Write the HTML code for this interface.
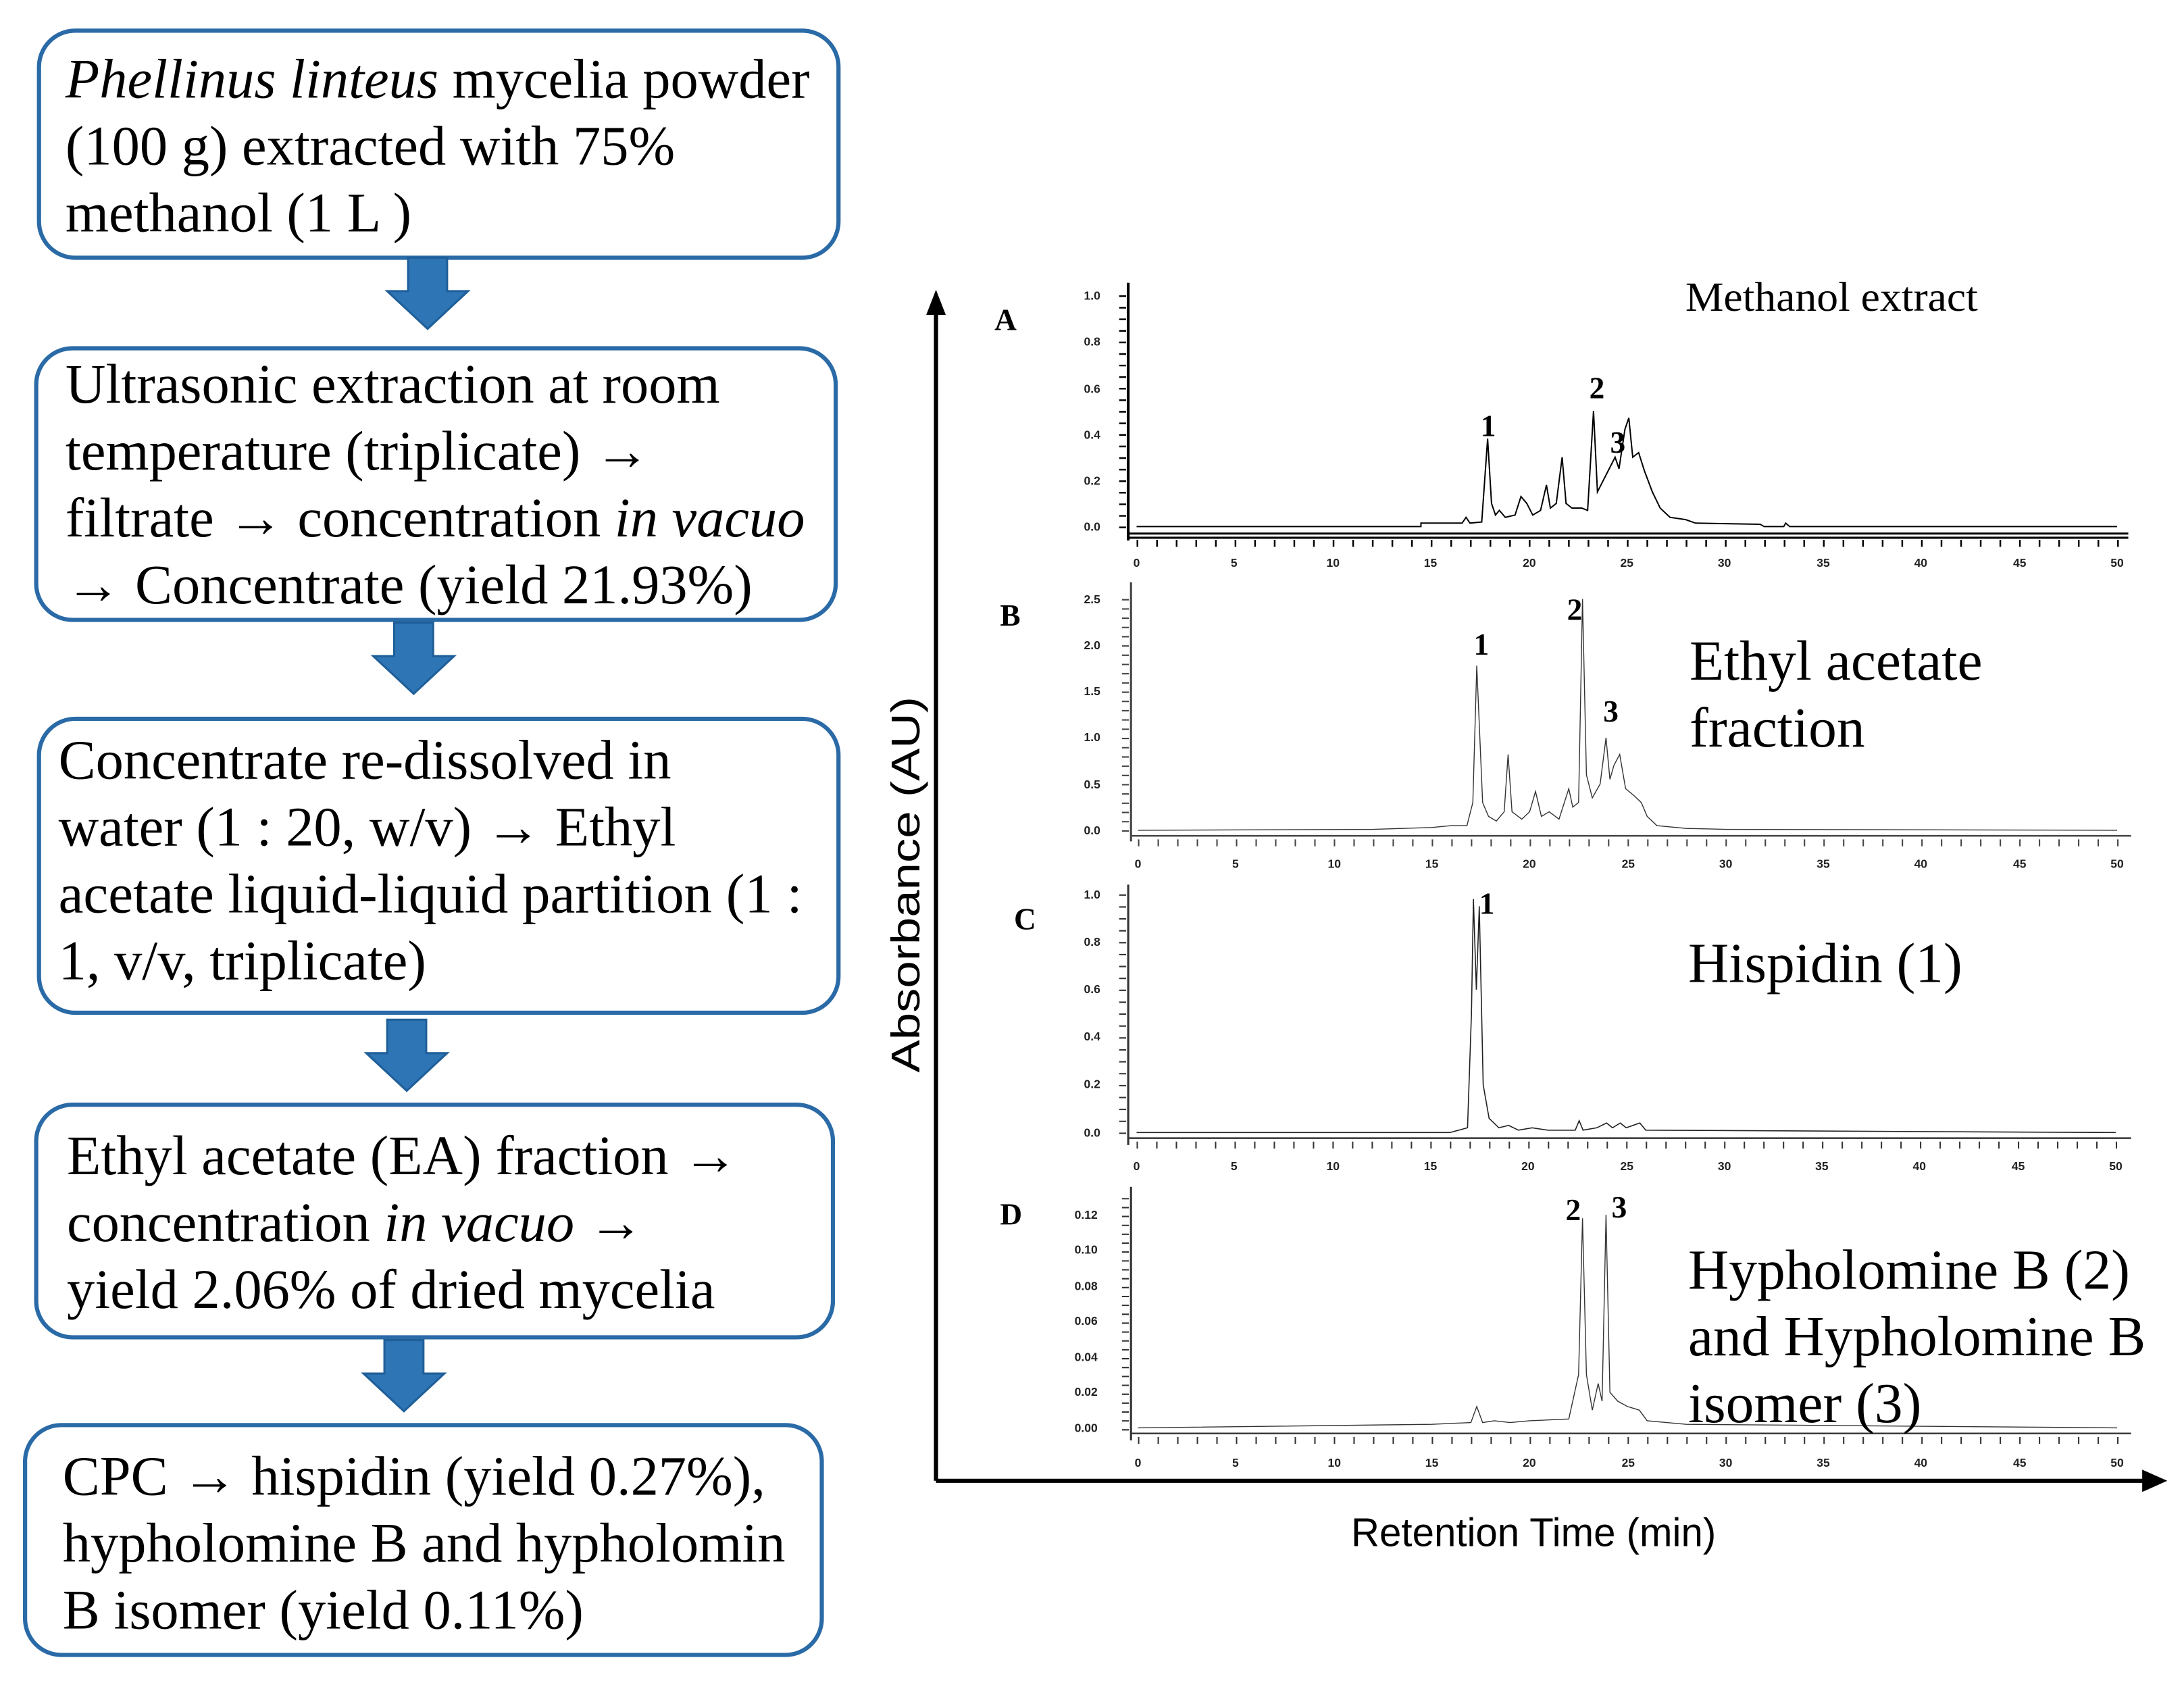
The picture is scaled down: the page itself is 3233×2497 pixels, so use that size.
<!DOCTYPE html>
<html><head><meta charset="utf-8"><style>
html,body{margin:0;padding:0;background:#fff;}
svg{display:block;}
.t{font-family:"Liberation Serif",serif;font-size:40px;fill:#000;}
.s{font-family:"Liberation Serif",serif;}
.n{font-family:"Liberation Sans",sans-serif;font-size:8.5px;fill:#222;font-weight:bold;}
</style></head><body>
<svg width="3233" height="2497" viewBox="0 0 1568 1211" xmlns="http://www.w3.org/2000/svg">
<defs>
<g id="arr"><path d="M-14,0 H14 V24 H29 L0,51 L-29,24 H-14 Z" fill="#2e75b6" stroke="#1f5f99" stroke-width="1.5"/></g>
</defs>
<g fill="none" stroke="#2a6aa6" stroke-width="3">
<rect x="28" y="22" width="574" height="163" rx="26"/>
<rect x="26" y="250" width="574" height="195" rx="26"/>
<rect x="28" y="516" width="574" height="211" rx="26"/>
<rect x="26" y="793" width="572" height="167" rx="26"/>
<rect x="18" y="1023" width="572" height="165" rx="26"/>
</g>
<use href="#arr" x="307" y="185"/>
<use href="#arr" x="297" y="447"/>
<use href="#arr" x="292" y="732"/>
<use href="#arr" x="290" y="962"/>
<text class="t" x="47" y="70"><tspan font-style="italic">Phellinus linteus</tspan> mycelia powder</text>
<text class="t" x="47" y="118">(100 g) extracted with 75%</text>
<text class="t" x="47" y="166">methanol (1 L )</text>
<text class="t" x="47" y="289">Ultrasonic extraction at room</text>
<text class="t" x="47" y="337">temperature (triplicate) →</text>
<text class="t" x="47" y="385">filtrate → concentration <tspan font-style="italic">in vacuo</tspan></text>
<text class="t" x="47" y="433">→ Concentrate (yield 21.93%)</text>
<text class="t" x="42" y="559">Concentrate re-dissolved in</text>
<text class="t" x="42" y="607">water (1 : 20, w/v) → Ethyl</text>
<text class="t" x="42" y="655" textLength="534" lengthAdjust="spacingAndGlyphs">acetate liquid-liquid partition (1 :</text>
<text class="t" x="42" y="703">1, v/v, triplicate)</text>
<text class="t" x="48" y="843">Ethyl acetate (EA) fraction →</text>
<text class="t" x="48" y="891">concentration <tspan font-style="italic">in vacuo</tspan> →</text>
<text class="t" x="48" y="939">yield 2.06% of dried mycelia</text>
<text class="t" x="45" y="1073">CPC → hispidin (yield 0.27%),</text>
<text class="t" x="45" y="1121">hypholomine B and hypholomin</text>
<text class="t" x="45" y="1169">B isomer (yield 0.11%)</text>

<g stroke="#000" stroke-width="3" fill="none">
<path d="M672,1063 V222"/><path d="M672,1063 H1542"/>
</g>
<path d="M672,208 L665,226 L679,226 Z" fill="#000"/>
<path d="M1556,1063 L1538,1055 L1538,1071 Z" fill="#000"/>
<text x="660" y="635" transform="rotate(-90 660 635)" text-anchor="middle" font-family="Liberation Sans,sans-serif" font-size="29" fill="#000" textLength="270" lengthAdjust="spacingAndGlyphs">Absorbance (AU)</text>
<text x="1101" y="1110" text-anchor="middle" font-family="Liberation Sans,sans-serif" font-size="29" fill="#000" textLength="262" lengthAdjust="spacingAndGlyphs">Retention Time (min)</text>

<!-- Panel A -->
<g stroke="#000" fill="none">
<path d="M810,203 V388" stroke-width="2"/>
<path d="M810,383 H1528 M810,386 H1528" stroke-width="1.5"/>
<path d="M816,390 H1530" stroke-width="5" stroke-dasharray="1.2 12.88"/>
<path d="M806,212 V380" stroke-width="5" stroke-dasharray="1.2 7.1"/>
</g>
<g transform="translate(816,378) scale(14.08,-166)"><path fill="none" stroke="#000" stroke-width="2" vector-effect="non-scaling-stroke" d="M0,0 L14.5,0 14.5,0.015 16.6,0.015 16.8,0.04 17,0.015 17.6,0.02 17.9,0.38 18.1,0.1 18.3,0.05 18.5,0.07 18.8,0.04 19.3,0.05 19.6,0.13 19.9,0.1 20.2,0.05 20.6,0.07 20.9,0.18 21.1,0.08 21.4,0.1 21.7,0.3 21.9,0.1 22.2,0.08 22.7,0.08 23,0.07 23.3,0.5 23.5,0.15 23.8,0.2 24.1,0.25 24.4,0.3 24.6,0.25 24.9,0.42 25.1,0.47 25.3,0.3 25.6,0.32 25.9,0.24 26.3,0.15 26.7,0.08 27.2,0.04 28,0.03 28.5,0.015 31.8,0.01 32,0 33,0 33.1,0.015 33.3,0 50,0"/></g>
<g class="n" text-anchor="end"><text x="790" y="215">1.0</text><text x="790" y="248">0.8</text><text x="790" y="282">0.6</text><text x="790" y="315">0.4</text><text x="790" y="348">0.2</text><text x="790" y="381">0.0</text></g>
<g class="n" text-anchor="middle"><text x="816" y="407">0</text><text x="886" y="407">5</text><text x="957" y="407">10</text><text x="1027" y="407">15</text><text x="1098" y="407">20</text><text x="1168" y="407">25</text><text x="1238" y="407">30</text><text x="1309" y="407">35</text><text x="1379" y="407">40</text><text x="1450" y="407">45</text><text x="1520" y="407">50</text></g>
<text class="s" x="714" y="237" font-size="22" font-weight="bold">A</text>
<text class="s" x="1210" y="223" font-size="30" textLength="210" lengthAdjust="spacingAndGlyphs">Methanol extract</text>
<g class="s" font-size="22" font-weight="bold"><text x="1063" y="313">1</text><text x="1141" y="286">2</text><text x="1156" y="325">3</text></g>

<!-- Panel B -->
<g stroke="#444" fill="none">
<path d="M812,418 V604" stroke-width="1.5"/>
<path d="M812,600 H1530" stroke-width="1.2"/>
<path d="M817,605 H1530" stroke-width="5" stroke-dasharray="1 13.06"/>
<path d="M808,430 V598" stroke-width="5" stroke-dasharray="1 5.64"/>
</g>
<g transform="translate(817,596) scale(14.06,-66.4)"><path fill="none" stroke="#333" stroke-width="1.4" vector-effect="non-scaling-stroke" d="M0,0 L12,0.01 15,0.03 16,0.05 16.8,0.05 17.1,0.3 17.3,1.78 17.6,0.3 17.9,0.15 18.3,0.1 18.7,0.2 18.9,0.82 19.1,0.2 19.6,0.12 20,0.2 20.3,0.42 20.6,0.15 21,0.2 21.5,0.12 22,0.45 22.2,0.25 22.5,0.3 22.7,2.5 22.9,0.6 23.2,0.35 23.6,0.5 23.9,1.0 24.1,0.55 24.3,0.7 24.6,0.82 24.9,0.45 25.3,0.38 25.7,0.3 26,0.15 26.5,0.05 28,0.02 30,0.01 50,0"/></g>
<g class="n" text-anchor="end"><text x="790" y="433">2.5</text><text x="790" y="466">2.0</text><text x="790" y="499">1.5</text><text x="790" y="532">1.0</text><text x="790" y="566">0.5</text><text x="790" y="599">0.0</text></g>
<g class="n" text-anchor="middle"><text x="817" y="623">0</text><text x="887" y="623">5</text><text x="958" y="623">10</text><text x="1028" y="623">15</text><text x="1098" y="623">20</text><text x="1169" y="623">25</text><text x="1239" y="623">30</text><text x="1309" y="623">35</text><text x="1379" y="623">40</text><text x="1450" y="623">45</text><text x="1520" y="623">50</text></g>
<text class="s" x="718" y="449" font-size="22" font-weight="bold">B</text>
<text class="s" x="1213" y="488" font-size="40.5">Ethyl acetate</text>
<text class="s" x="1213" y="536" font-size="40.5">fraction</text>
<g class="s" font-size="22" font-weight="bold"><text x="1058" y="470">1</text><text x="1125" y="445">2</text><text x="1151" y="518">3</text></g>

<!-- Panel C -->
<g stroke="#333" fill="none">
<path d="M810,635 V822" stroke-width="1.5"/>
<path d="M810,817 H1530" stroke-width="1.2"/>
<path d="M816,822 H1530" stroke-width="5" stroke-dasharray="1 13.06"/>
<path d="M806,642 V815" stroke-width="5" stroke-dasharray="1 7.55"/>
</g>
<g transform="translate(816,813) scale(14.06,-171)"><path fill="none" stroke="#222" stroke-width="1.6" vector-effect="non-scaling-stroke" d="M0,0 L16,0 16.9,0.02 17.1,0.5 17.2,0.98 17.35,0.6 17.5,0.95 17.7,0.2 18,0.06 18.5,0.02 19,0.03 19.5,0.01 20.2,0.02 21,0.01 22.4,0.01 22.6,0.05 22.8,0.01 23.5,0.02 24,0.04 24.3,0.02 24.7,0.04 25,0.02 25.7,0.04 26,0.01 50,0"/></g>
<g class="n" text-anchor="end"><text x="790" y="645">1.0</text><text x="790" y="679">0.8</text><text x="790" y="713">0.6</text><text x="790" y="747">0.4</text><text x="790" y="781">0.2</text><text x="790" y="816">0.0</text></g>
<g class="n" text-anchor="middle"><text x="816" y="840">0</text><text x="886" y="840">5</text><text x="957" y="840">10</text><text x="1027" y="840">15</text><text x="1097" y="840">20</text><text x="1168" y="840">25</text><text x="1238" y="840">30</text><text x="1308" y="840">35</text><text x="1378" y="840">40</text><text x="1449" y="840">45</text><text x="1519" y="840">50</text></g>
<text class="s" x="728" y="667" font-size="22" font-weight="bold">C</text>
<text class="s" x="1212" y="705" font-size="40.5">Hispidin (1)</text>
<text class="s" x="1062" y="656" font-size="22" font-weight="bold">1</text>

<!-- Panel D -->
<g stroke="#333" fill="none">
<path d="M812,852 V1034" stroke-width="1.5"/>
<path d="M812,1029 H1530" stroke-width="1.2"/>
<path d="M817,1034 H1530" stroke-width="5" stroke-dasharray="1 13.06"/>
<path d="M808,860 V1027" stroke-width="5" stroke-dasharray="1 5.38"/>
</g>
<g transform="translate(817,1025) scale(14.06,-1275)"><path fill="none" stroke="#333" stroke-width="1.4" vector-effect="non-scaling-stroke" d="M0,0 L15,0.002 17,0.003 17.3,0.012 17.6,0.003 18.2,0.004 19,0.003 20,0.004 22,0.005 22.5,0.03 22.7,0.118 22.9,0.03 23.2,0.01 23.5,0.025 23.7,0.015 23.9,0.12 24.1,0.02 24.5,0.015 25,0.012 25.6,0.01 26,0.004 28,0.002 50,0"/></g>
<g class="n" text-anchor="end"><text x="788" y="875">0.12</text><text x="788" y="900">0.10</text><text x="788" y="926">0.08</text><text x="788" y="951">0.06</text><text x="788" y="977">0.04</text><text x="788" y="1002">0.02</text><text x="788" y="1028">0.00</text></g>
<g class="n" text-anchor="middle"><text x="817" y="1053">0</text><text x="887" y="1053">5</text><text x="958" y="1053">10</text><text x="1028" y="1053">15</text><text x="1098" y="1053">20</text><text x="1169" y="1053">25</text><text x="1239" y="1053">30</text><text x="1309" y="1053">35</text><text x="1379" y="1053">40</text><text x="1450" y="1053">45</text><text x="1520" y="1053">50</text></g>
<text class="s" x="718" y="879" font-size="22" font-weight="bold">D</text>
<text class="s" x="1212" y="925" font-size="40.5">Hypholomine B (2)</text>
<text class="s" x="1212" y="973" font-size="40.5">and Hypholomine B</text>
<text class="s" x="1212" y="1021" font-size="40.5">isomer (3)</text>
<g class="s" font-size="22" font-weight="bold"><text x="1124" y="876">2</text><text x="1157" y="874">3</text></g>
</svg>
</body></html>
